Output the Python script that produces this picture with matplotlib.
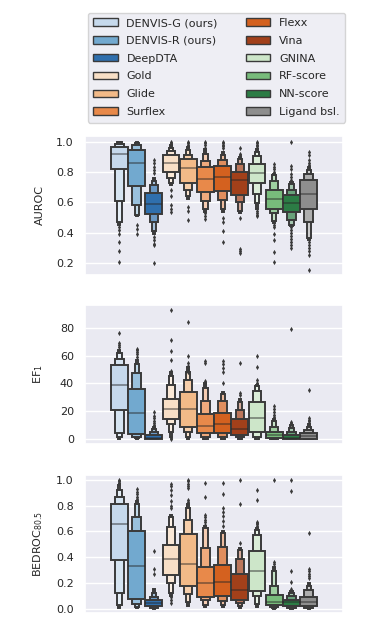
import numpy as np
import matplotlib
matplotlib.use("Agg")
import matplotlib.pyplot as plt
import matplotlib.colors as mcolors
from matplotlib.patches import Patch
import seaborn as sns

methods = ["DENVIS-G (ours)", "DENVIS-R (ours)", "DeepDTA", "Gold", "Glide", "Surflex",
           "Flexx", "Vina", "GNINA", "RF-score", "NN-score", "Ligand bsl."]
colors = ["#c6d9ec", "#72a9cf", "#2f6fad", "#f8dfc6", "#f2ba88", "#e8894a",
          "#d4611f", "#a2401a", "#cde6c9", "#78bb7b", "#2c7c45", "#8e8e8e"]

# letter values per method, inner box first: (low, high)
auroc_med = [0.92, 0.86, 0.59, 0.86, 0.825, 0.755, 0.765, 0.75, 0.795, 0.62, 0.595, 0.655]
auroc_boxes = [
    [(0.82, 0.965), (0.61, 0.985), (0.47, 0.995), (0.455, 1.0)],
    [(0.71, 0.945), (0.58, 0.975), (0.52, 0.99), (0.51, 1.0)],
    [(0.525, 0.66), (0.47, 0.715), (0.41, 0.74), (0.39, 0.76)],
    [(0.80, 0.91), (0.76, 0.94), (0.725, 0.96), (0.715, 0.975)],
    [(0.726, 0.885), (0.68, 0.915), (0.64, 0.945), (0.62, 0.965)],
    [(0.67, 0.83), (0.61, 0.87), (0.56, 0.92), (0.54, 0.95)],
    [(0.675, 0.84), (0.615, 0.88), (0.56, 0.91), (0.54, 0.93)],
    [(0.65, 0.80), (0.605, 0.85), (0.545, 0.885), (0.53, 0.90)],
    [(0.725, 0.855), (0.655, 0.905), (0.595, 0.93), (0.56, 0.95)],
    [(0.56, 0.68), (0.53, 0.74), (0.48, 0.78), (0.465, 0.79)],
    [(0.535, 0.65), (0.485, 0.68), (0.455, 0.72), (0.445, 0.735)],
    [(0.555, 0.745), (0.47, 0.785), (0.365, 0.815), (0.35, 0.83)],
]
auroc_out = [
    [0.44, 0.42, 0.39, 0.34, 0.28, 0.21],
    [0.45, 0.425, 0.395],
    [0.88, 0.86, 0.835, 0.815, 0.795, 0.37, 0.35, 0.33, 0.32, 0.2],
    [1.0, 0.99, 0.98, 0.68, 0.64, 0.585, 0.555, 0.535],
    [1.0, 0.99, 0.98, 0.97, 0.57, 0.545, 0.485],
    [1.0, 0.99, 0.98, 0.96, 0.53, 0.51, 0.49],
    [1.0, 0.99, 0.98, 0.97, 0.955, 0.495, 0.47, 0.41, 0.34],
    [0.96, 0.92, 0.91, 0.495, 0.295, 0.28, 0.265],
    [1.0, 0.99, 0.98, 0.97, 0.96, 0.545, 0.53, 0.52, 0.51],
    [0.85, 0.835, 0.82, 0.80, 0.455, 0.44, 0.39, 0.355, 0.275, 0.21],
    [1.0, 0.84, 0.82, 0.79, 0.77, 0.75, 0.44, 0.42, 0.40, 0.38, 0.36, 0.34, 0.32, 0.30],
    [0.93, 0.91, 0.88, 0.86, 0.845, 0.34, 0.32, 0.30, 0.28, 0.255, 0.155],
]

ef_med = [39, 18.5, 0.7, 21.5, 21.5, 9.5, 11, 7, 15.5, 3, 1.2, 2]
ef_boxes = [
    [(21, 53.5), (4.8, 57.5), (1.9, 62), (0.5, 64)],
    [(3.6, 35.8), (1.9, 47.3), (0.8, 54), (0.3, 57)],
    [(0.2, 3.0), (0.1, 5.0), (0.05, 7.5), (0.0, 9)],
    [(14.5, 29), (10.7, 38.9), (5.5, 45), (1.9, 48)],
    [(9, 34), (5.5, 42.5), (1.9, 48), (0.5, 52)],
    [(4.3, 18), (1.9, 27.5), (0.5, 37), (0.1, 40)],
    [(4.3, 19), (1.9, 27.5), (0.5, 32.5), (0.1, 34)],
    [(3, 14.5), (1.5, 21), (0.5, 26.5), (0.1, 29)],
    [(5, 26.5), (1.9, 34.6), (0.5, 38), (0.1, 39)],
    [(0.7, 5), (0.3, 9), (0.1, 13), (0.05, 14.5)],
    [(0.2, 3.1), (0.1, 5.5), (0.05, 8.4), (0.0, 10)],
    [(0.2, 4.3), (0.1, 6.7), (0.05, 9), (0.0, 11)],
]
ef_out = [
    [76, 69, 67.5, 66],
    [65, 64, 62.5, 61, 59],
    [19.5, 17, 15, 13, 11.5, 10.5, 9.5],
    [92.5, 71, 63, 56.5, 49, 1.0, 0.5],
    [84, 60, 54.5, 52.5, 50.5, 48.5],
    [56, 54.5, 42, 40],
    [56, 54, 51, 48, 40],
    [54.5, 33.5, 32],
    [59.5, 52, 42.5, 40.5, 39.5],
    [23.5, 21.5, 19.5, 17.5, 16],
    [79, 12.5, 11.5, 10.8],
    [35, 15, 14, 13, 12],
]

bedroc_med = [0.66, 0.33, 0.043, 0.385, 0.35, 0.2, 0.205, 0.145, 0.295, 0.055, 0.05, 0.055]
bedroc_boxes = [
    [(0.375, 0.815), (0.12, 0.87), (0.03, 0.92), (0.005, 0.96)],
    [(0.075, 0.605), (0.035, 0.715), (0.01, 0.81), (0.003, 0.84)],
    [(0.017, 0.07), (0.008, 0.09), (0.003, 0.12), (0.0, 0.15)],
    [(0.265, 0.495), (0.2, 0.635), (0.12, 0.715), (0.095, 0.73)],
    [(0.175, 0.58), (0.115, 0.69), (0.055, 0.785), (0.02, 0.81)],
    [(0.088, 0.32), (0.07, 0.47), (0.03, 0.625), (0.01, 0.64)],
    [(0.1, 0.34), (0.057, 0.48), (0.03, 0.585), (0.01, 0.6)],
    [(0.07, 0.27), (0.044, 0.385), (0.02, 0.455), (0.005, 0.47)],
    [(0.14, 0.445), (0.095, 0.57), (0.035, 0.61), (0.01, 0.63)],
    [(0.026, 0.11), (0.012, 0.18), (0.005, 0.295), (0.0, 0.32)],
    [(0.018, 0.07), (0.008, 0.095), (0.003, 0.12), (0.0, 0.135)],
    [(0.018, 0.088), (0.008, 0.145), (0.003, 0.18), (0.0, 0.2)],
]
bedroc_out = [
    [1.0, 0.99, 0.98, 0.975],
    [0.93, 0.91, 0.89, 0.87, 0.855],
    [0.445, 0.31, 0.27],
    [0.97, 0.955, 0.92, 0.88, 0.84, 0.8, 0.78, 0.09, 0.07, 0.045],
    [1.0, 0.99, 0.97, 0.95, 0.935, 0.845, 0.83],
    [0.975, 0.865, 0.73, 0.71, 0.69, 0.67, 0.65],
    [0.975, 0.895, 0.78, 0.75, 0.72, 0.68, 0.645],
    [1.0, 0.815, 0.51],
    [0.925, 0.845, 0.675, 0.665, 0.655, 0.64],
    [1.0, 0.36, 0.345],
    [1.0, 0.915, 0.29, 0.205, 0.15],
    [0.59, 0.31, 0.29, 0.27, 0.25, 0.235],
]

sns.set_theme(style="darkgrid")
plt.rcParams["font.family"] = ["DejaVu Sans"]
fs = 8.0
plt.rcParams["font.size"] = fs
plt.rcParams["xtick.labelsize"] = fs
plt.rcParams["ytick.labelsize"] = fs
plt.rcParams["axes.labelsize"] = fs
plt.rcParams["legend.fontsize"] = fs

edge = "#3a3a3a"
lw = 1.4
n = len(methods)
slot = 0.8 / n
xs = -0.4 + slot * (np.arange(n) + 0.5)
bw = slot * 0.98


def boxen(ax, med, boxes, outl):
    for i in range(n):
        base = np.array(mcolors.to_rgb(colors[i]))
        k = len(boxes[i])
        for j in range(k - 1, -1, -1):
            t = 0.85 * j / (k - 1)
            c = base + (1 - base) * t
            lo, hi = boxes[i][j]
            ax.bar(xs[i], hi - lo, bottom=lo, width=bw * 0.5 ** j, color=c,
                   edgecolor=edge, linewidth=lw, zorder=2)
        ax.plot([xs[i] - bw / 2, xs[i] + bw / 2], [med[i], med[i]], color=".15",
                alpha=0.45, lw=lw, solid_capstyle="butt", zorder=3)
        ax.scatter(np.repeat(xs[i], len(outl[i])), outl[i], marker="d", s=7,
                   color=edge, linewidths=0, zorder=3)
    ax.set_xlim(-0.5, 0.5)
    ax.set_xticks([])
    ax.tick_params(axis="y", pad=2)


fig = plt.figure(figsize=(3.89, 6.29), dpi=100)
ax1 = fig.add_axes([0.2185, 0.5628, 0.6635, 0.221])
ax2 = fig.add_axes([0.2185, 0.2941, 0.6635, 0.221])
ax3 = fig.add_axes([0.2185, 0.0254, 0.6635, 0.2194])

boxen(ax1, auroc_med, auroc_boxes, auroc_out)
ax1.set_ylim(0.123, 1.037)
ax1.set_yticks([0.2, 0.4, 0.6, 0.8, 1.0])
ax1.set_ylabel("AUROC")

boxen(ax2, ef_med, ef_boxes, ef_out)
ax2.set_ylim(-3.4, 96.2)
ax2.set_yticks([0, 20, 40, 60, 80])
ax2.set_ylabel("EF$_1$")

boxen(ax3, bedroc_med, bedroc_boxes, bedroc_out)
ax3.set_ylim(-0.034, 1.039)
ax3.set_yticks([0.0, 0.2, 0.4, 0.6, 0.8, 1.0])
ax3.set_ylabel("BEDROC$_{80.5}$")

for ax in (ax1, ax2, ax3):
    ax.yaxis.set_label_coords(-0.155, 0.5)

handles = [Patch(facecolor=c, edgecolor=edge, linewidth=1.0) for c in colors]
fig.legend(handles, methods, ncol=2, loc="upper left",
           bbox_to_anchor=(82 / 389, 1 - 7 / 629), handlelength=2.2,
           handleheight=0.65, labelspacing=0.7, columnspacing=2.5,
           handletextpad=0.8, borderpad=0.5)

fig.savefig("out.png", dpi=100)
